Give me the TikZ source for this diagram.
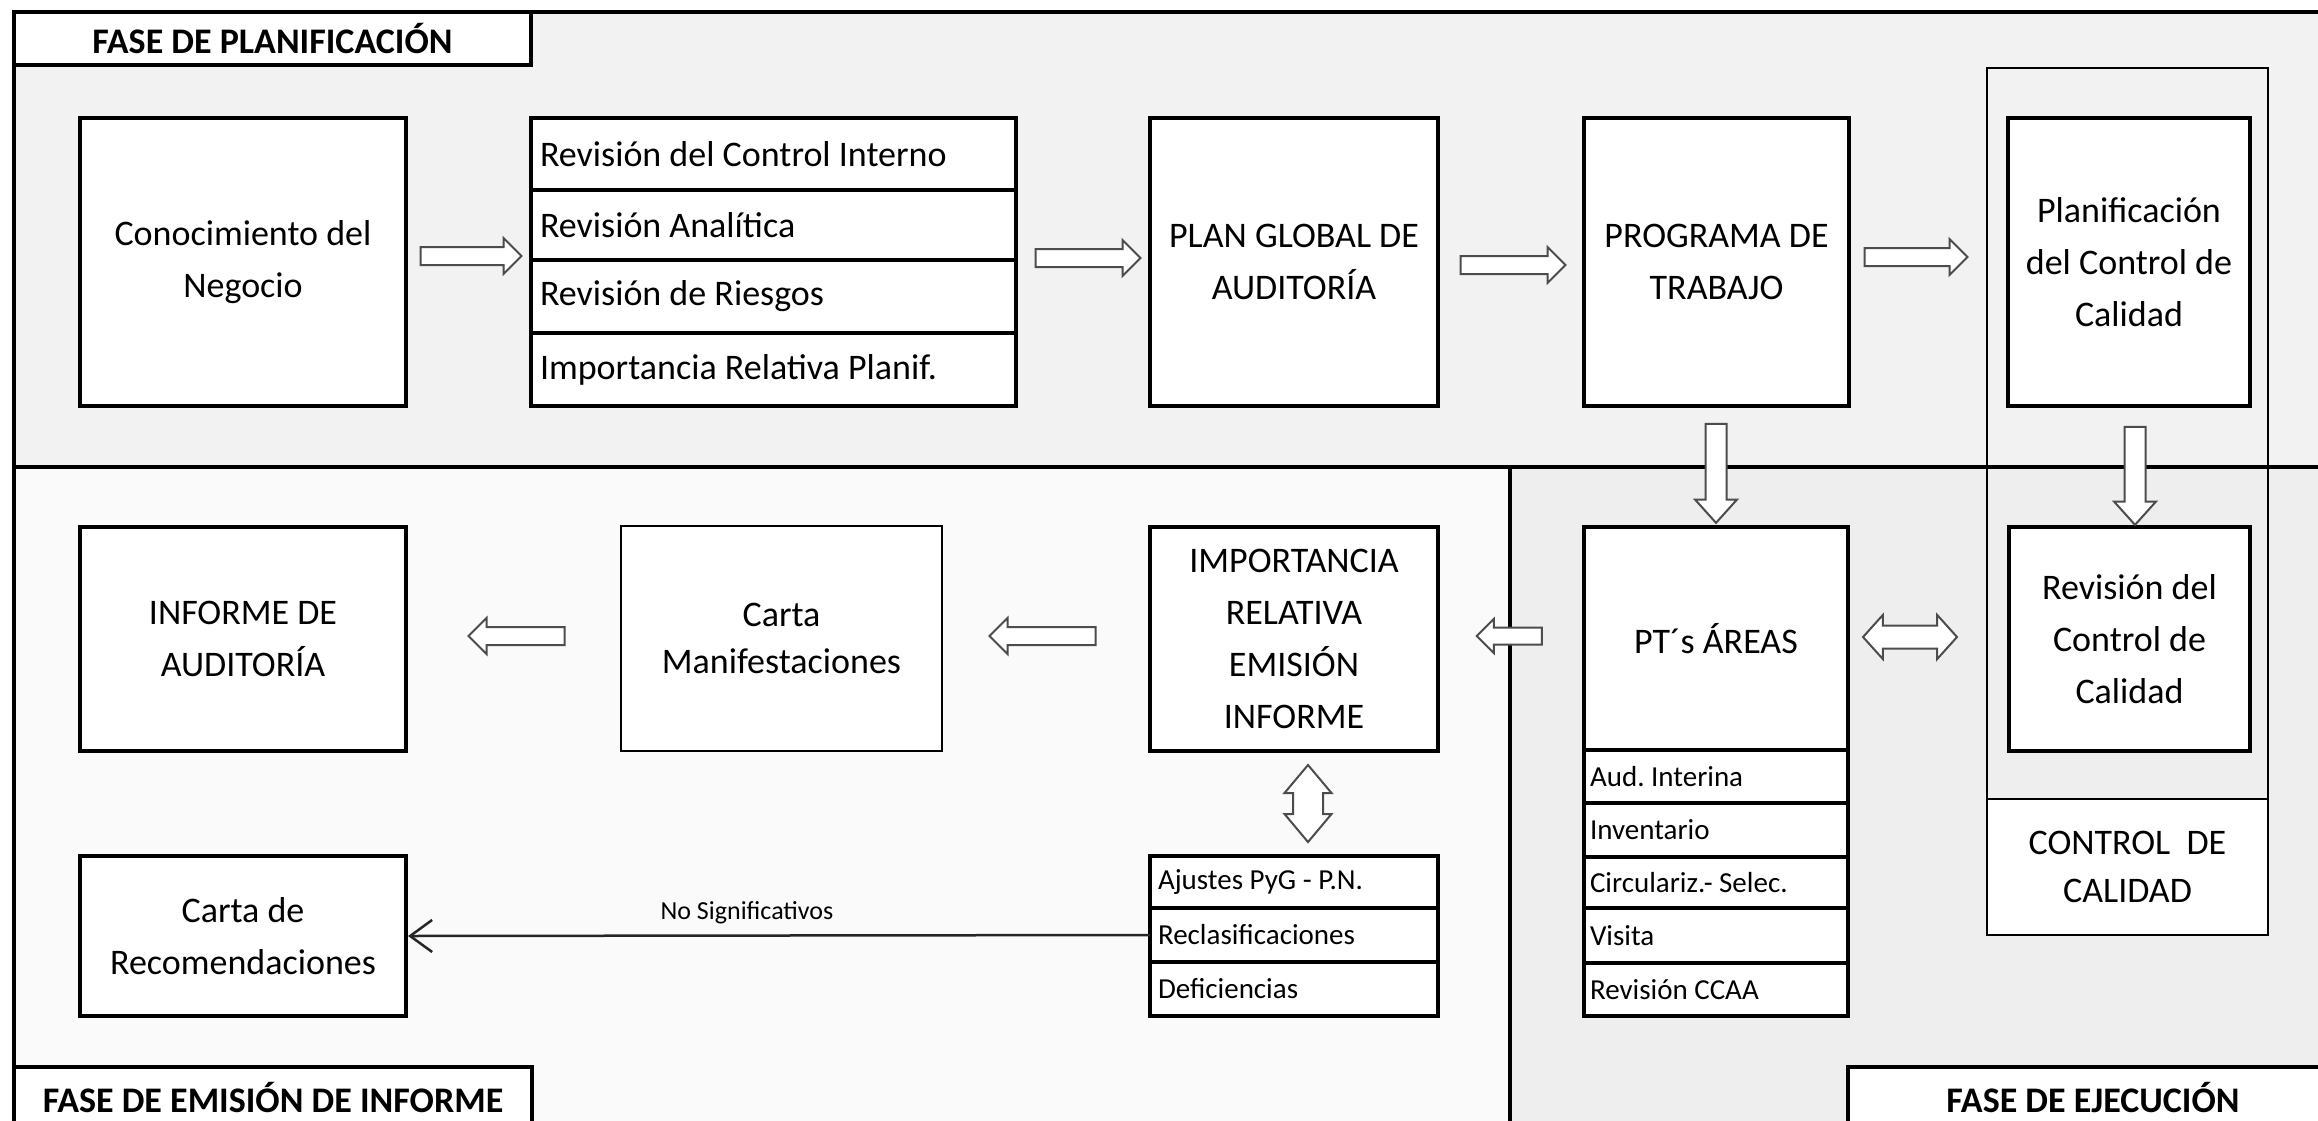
\documentclass[tikz,border=0pt]{standalone}
\usepackage{fontspec}
\setmainfont{Carlito}
\usetikzlibrary{shapes.arrows,arrows.meta}
\newcommand\fmain{\fontsize{36}{52}\selectfont}
\newcommand\fsub{\fontsize{29}{35}\selectfont}
\newcommand\fnote{\fontsize{26}{30}\selectfont}
\definecolor{planbg}{HTML}{F2F2F2}
\definecolor{emibg}{HTML}{FAFAFA}
\definecolor{ejebg}{HTML}{EEEEEE}
\frenchspacing
\begin{document}
\begin{tikzpicture}[x=1pt,y=-1pt,
  frame/.style={line width=4pt, draw=black},
  mbox/.style={draw, line width=4pt, fill=white, inner sep=0pt, outer sep=0pt, align=center, font=\fmain, anchor=north west},
  tbox/.style={mbox, line width=2.4pt},
  rowbox/.style={draw, line width=3.5pt, fill=white, inner ysep=0pt, inner xsep=8pt, outer sep=0pt, anchor=north west, align=flush left},
  revrow/.style={rowbox, font=\fmain, text width=467pt, inner xsep=9pt},
  ptrow/.style={rowbox, font=\fsub, text width=252pt, inner xsep=6pt},
  ajrow/.style={rowbox, font=\fsub, text width=272pt, inner xsep=8pt},
  phase/.style={draw, line width=4pt, fill=white, inner sep=0pt, outer sep=0pt, anchor=north west, font=\fmain\bfseries, align=center},
  barrow/.style={shape=single arrow, draw=black!70, fill=white, line width=2pt, inner xsep=0pt, outer sep=0pt, single arrow head indent=0pt},
  rarrow/.style={barrow, inner ysep=8pt, single arrow head extend=9pt, single arrow tip angle=90},
  larrow/.style={rarrow, rotate=180},
  darrow/.style={barrow, rotate=-90, inner ysep=9.5pt, single arrow head extend=10.5pt, single arrow tip angle=84},
  dbl/.style={shape=double arrow, draw=black!70, fill=white, line width=2pt, inner xsep=0pt, outer sep=0pt, double arrow head indent=0pt},
  conn/.style={line width=2.5pt, draw=black!85, -{Straight Barb[length=22pt,width=32pt]}}
]
\useasboundingbox (0,0) rectangle (2318,1120);
\clip (0,0) rectangle (2318,1120);
\fill[white] (0,0) rectangle (2318,1120);
% phase regions
\fill[planbg] (14,12) rectangle (2340,467);
\fill[emibg] (14,467) rectangle (1510,1140);
\fill[ejebg] (1510,467) rectangle (2340,1140);
\draw[frame] (2340,12) -- (14,12) -- (14,1140);
\draw[frame] (14,467) -- (2340,467);
\draw[frame] (1510,467) -- (1510,1140);
% quality control frame
\draw[line width=2.2pt] (1987,68) rectangle (2268,935);

% planning row
\node[mbox, minimum width=326pt, minimum height=288pt] (conoc) at (80,118) {Conocimiento del\\Negocio};
\node[revrow, minimum height=72pt] (rev1) at (531,118) {Revisión del Control Interno};
\node[revrow, minimum height=70pt] (rev2) at (531,190) {Revisión Analítica};
\node[revrow, minimum height=73pt] (rev3) at (531,260) {Revisión de Riesgos};
\node[revrow, minimum height=73pt] (rev4) at (531,333) {Importancia Relativa Planif.};
\node[mbox, minimum width=288pt, minimum height=288pt] (plan) at (1150,118) {PLAN GLOBAL DE\\AUDITORÍA};
\node[mbox, minimum width=265pt, minimum height=288pt] (prog) at (1584,118) {PROGRAMA DE\\TRABAJO};
\node[mbox, minimum width=242pt, minimum height=288pt] (plancc) at (2008,118) {Planificación\\del Control de\\Calidad};

% execution
\node[mbox, minimum width=264pt, minimum height=223pt] (pt) at (1584,527) {PT´s ÁREAS};
\node[ptrow, minimum height=53pt] (pt1) at (1584,750) {Aud. Interina};
\node[ptrow, minimum height=54pt] (pt2) at (1584,803) {Inventario};
\node[ptrow, minimum height=51pt] (pt3) at (1584,857) {Circulariz.- Selec.};
\node[ptrow, minimum height=55pt] (pt4) at (1584,908) {Visita};
\node[ptrow, minimum height=53pt] (pt5) at (1584,963) {Revisión CCAA};
\node[mbox, minimum width=241pt, minimum height=224pt] (revcc) at (2009,527) {Revisión del\\Control de\\Calidad};
\node[tbox, minimum width=281pt, minimum height=136pt, font=\fontsize{36}{48}\selectfont] (ccl) at (1987,799) {CONTROL\ \ DE\\CALIDAD};

% report issuance
\node[mbox, minimum width=288pt, minimum height=224pt] (imp) at (1150,527) {IMPORTANCIA\\RELATIVA\\EMISIÓN\\INFORME};
\node[ajrow, minimum height=52pt] (aj1) at (1150,856) {Ajustes PyG - P.N.};
\node[ajrow, minimum height=54pt] (aj2) at (1150,908) {Reclasificaciones};
\node[ajrow, minimum height=54pt] (aj3) at (1150,962) {Deficiencias};
\node[tbox, minimum width=321pt, minimum height=225pt, font=\fontsize{36}{47}\selectfont] (carta) at (621,526) {Carta\\Manifestaciones};
\node[mbox, minimum width=326pt, minimum height=224pt] (inf) at (80,527) {INFORME DE\\AUDITORÍA};
\node[mbox, minimum width=326pt, minimum height=160pt] (rec) at (80,856) {Carta de\\Recomendaciones};

% line connector
\draw[conn, shorten >=2pt] (aj2.west) -- (rec.east);
\node[font=\fnote, inner sep=0pt] (nosig) at (747,913) {No Significativos};

% block arrows
\node[rarrow, minimum height=101pt] (ar1) at (466.5,256) {};
\node[rarrow, minimum height=105pt] (ar2) at (1083.5,258) {};
\node[rarrow, minimum height=105pt] (ar3) at (1508.5,265) {};
\node[rarrow, minimum height=103pt] (ar4) at (1911.5,257) {};
\node[darrow, minimum height=99pt] (ad1) at (1716,467.5) {};
\node[darrow, minimum height=98pt] (ad2) at (2135,470) {};
\node[larrow, minimum height=96pt] (al1) at (521,636) {};
\node[larrow, minimum height=106pt] (al2) at (1047,636) {};
\node[barrow, rotate=180, inner ysep=7.5pt, single arrow head extend=8.5pt, single arrow tip angle=90, minimum height=65pt] (al3) at (1513.5,636) {};
\node[dbl, inner ysep=10.5pt, double arrow head extend=10.5pt, double arrow tip angle=96, minimum height=94pt] (dh) at (1910,637) {};
\node[dbl, rotate=90, inner ysep=14pt, double arrow head extend=8.5pt, double arrow tip angle=80, minimum height=77pt] (dv) at (1308,803.5) {};

% phase labels
\node[phase, minimum width=517pt, minimum height=53pt] (lplan) at (14,12) {FASE DE PLANIFICACIÓN};
\node[phase, minimum width=518pt, minimum height=60pt] (lemi) at (14,1067) {FASE DE EMISIÓN DE INFORME};
\node[phase, minimum width=490pt, minimum height=60pt] (leje) at (1848,1067) {FASE DE EJECUCIÓN};
\end{tikzpicture}
\end{document}
